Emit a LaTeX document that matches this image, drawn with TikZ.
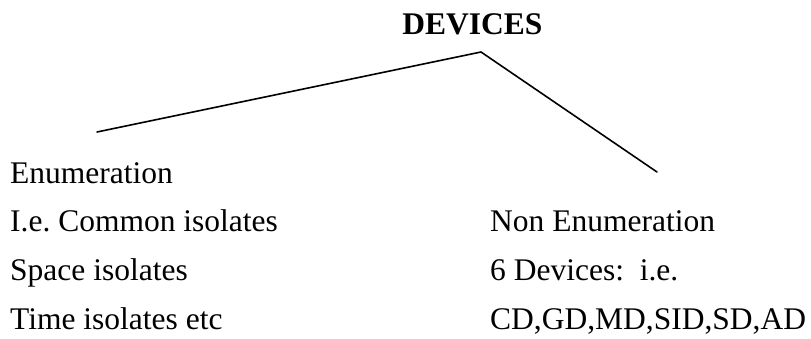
\documentclass[tikz,border=0pt]{standalone}
\usepackage{fontspec}
\setmainfont{Liberation Serif}
\begin{document}
\begin{tikzpicture}[x=1pt,y=1pt,
  label text/.style={anchor=base west,inner sep=0pt,font=\fontsize{31.5}{36}\selectfont\frenchspacing},
  title text/.style={anchor=base,inner sep=0pt,font=\fontsize{31.5}{36}\selectfont\bfseries},
  branch/.style={line width=1.6pt,line cap=round}]
\useasboundingbox (0,0) rectangle (811,338);
% heading
\node[title text] (title) at (472.5,303) {DEVICES};
% branch points
\coordinate (apex) at (481,286);
\coordinate (lend) at (97,206);
\coordinate (rend) at (657,166);
\draw[branch] (lend) -- (apex) -- (rend);
% left column
\node[label text] (enum) at (10,155) {Enumeration};
\node[label text] (common) at (10,106.5) {I.e. Common isolates};
\node[label text] (space) at (10,58) {Space isolates};
\node[label text] (time) at (10,9) {Time isolates etc};
% right column
\node[label text] (nonenum) at (490,106.5) {Non Enumeration};
\node[label text] (six) at (490,58) {6 Devices:\ \ i.e.};
\node[label text] (list) at (490,9) {CD,GD,MD,SID,SD,AD};
\end{tikzpicture}
\end{document}
